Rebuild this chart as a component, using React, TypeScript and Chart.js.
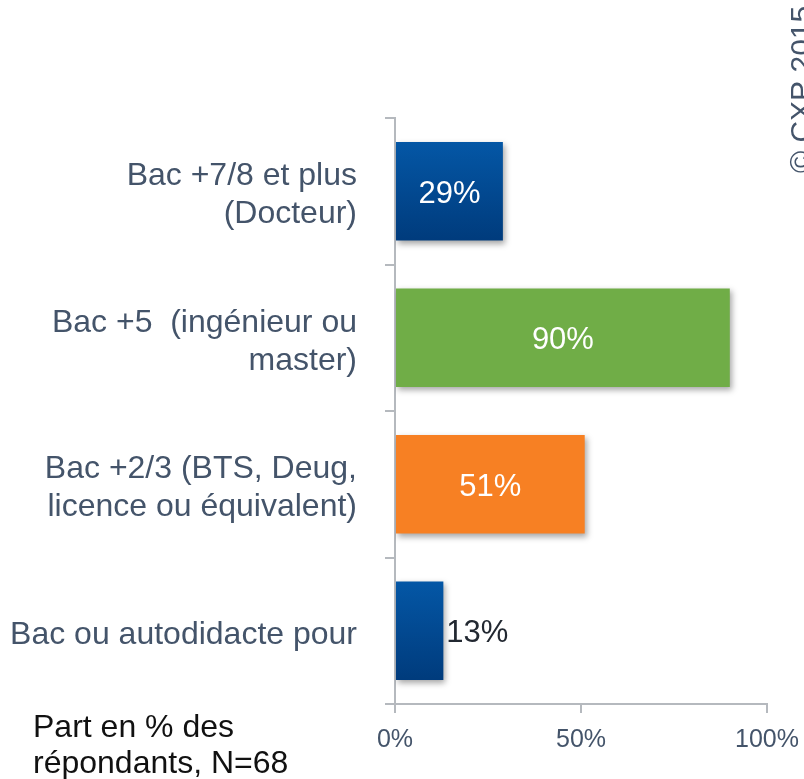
import React, { useEffect, useRef } from "react";
import { Chart, registerables } from "chart.js";

Chart.register(...registerables);

const categories: (string | string[])[] = [
  ["Bac +7/8 et plus", "(Docteur)"],
  ["Bac +5  (ingénieur ou", "master)"],
  ["Bac +2/3 (BTS, Deug,", "licence ou équivalent)"],
  "Bac ou autodidacte pour",
];
const values = [29, 90, 51, 13];
const barKinds = ["blue", "green", "orange", "blue"];
const xTicks = [0, 50, 100];
const footnote = ["Part en % des", "répondants, N=68"];
const copyright = "© CXP 2015";

const FONT = "'Liberation Sans', Arial, sans-serif";
const TEXT2 = "#44546a";

export default function App() {
  const ref = useRef<HTMLCanvasElement | null>(null);

  useEffect(() => {
    const canvas = ref.current;
    if (!canvas) return;

    const colorFor = (c: any) => {
      const kind = barKinds[c.dataIndex];
      if (kind === "green") return "#70ad47";
      if (kind === "orange") return "#f78023";
      const chart = c.chart;
      const y = chart.scales && chart.scales.y;
      if (!y || !chart.chartArea) return "#004a93";
      const cy = y.getPixelForValue(c.dataIndex);
      const g = chart.ctx.createLinearGradient(0, cy - 50, 0, cy + 50);
      g.addColorStop(0, "#0457a6");
      g.addColorStop(1, "#003b7c");
      return g;
    };

    const shadowPlugin = {
      id: "shadow",
      beforeDatasetDraw(chart: any) {
        const ctx = chart.ctx;
        ctx.save();
        ctx.shadowColor = "rgba(0,0,0,0.35)";
        ctx.shadowBlur = 6;
        ctx.shadowOffsetX = 2;
        ctx.shadowOffsetY = 3;
      },
      afterDatasetDraw(chart: any) {
        chart.ctx.restore();
      },
    };

    const labelsPlugin = {
      id: "labels",
      afterDatasetsDraw(chart: any) {
        const ctx = chart.ctx;
        const meta = chart.getDatasetMeta(0);
        ctx.save();
        ctx.font = `31px ${FONT}`;
        ctx.textBaseline = "middle";
        meta.data.forEach((el: any, i: number) => {
          const v = values[i];
          const txt = `${v}%`;
          if (v >= 20) {
            ctx.fillStyle = "#ffffff";
            ctx.textAlign = "center";
            ctx.fillText(txt, (el.x + el.base) / 2, el.y + 3);
          } else {
            ctx.fillStyle = "#222831";
            ctx.textAlign = "left";
            ctx.fillText(txt, el.x + 3, el.y + 3);
          }
        });
        // footnote
        ctx.fillStyle = "#111111";
        ctx.textAlign = "left";
        ctx.textBaseline = "alphabetic";
        ctx.font = `32px ${FONT}`;
        footnote.forEach((line, i) => {
          ctx.fillText(line, 33, 737 + i * 36);
        });
        // copyright
        ctx.save();
        ctx.translate(811, 173);
        ctx.rotate(-Math.PI / 2);
        ctx.font = `30px ${FONT}`;
        ctx.fillStyle = TEXT2;
        ctx.textAlign = "left";
        ctx.textBaseline = "alphabetic";
        ctx.fillText(copyright, 0, 0);
        ctx.restore();
        ctx.restore();
      },
    };

    const chart = new Chart(canvas, {
      type: "bar",
      data: {
        labels: categories,
        datasets: [
          {
            data: values,
            backgroundColor: colorFor as any,
            borderWidth: 0,
            barPercentage: 0.673,
            categoryPercentage: 1,
          },
        ],
      },
      options: {
        indexAxis: "y",
        responsive: false,
        animation: false,
        devicePixelRatio: 1,
        layout: { padding: { top: 118, right: 37, left: 0, bottom: 0 } },
        plugins: {
          legend: { display: false },
          tooltip: { enabled: false },
        },
        scales: {
          x: {
            min: 0,
            max: 100,
            afterBuildTicks: (scale: any) => {
              scale.ticks = xTicks.map((v) => ({ value: v }));
            },
            afterFit: (scale: any) => {
              scale.height = 75;
              scale.paddingLeft = 0;
              scale.paddingRight = 0;
            },
            grid: {
              drawOnChartArea: false,
              drawTicks: true,
              tickLength: 9,
              color: "#b5b9be",
              lineWidth: 2,
            },
            border: { color: "#b5b9be", width: 2 },
            ticks: {
              padding: 12,
              color: TEXT2,
              font: { family: FONT, size: 25 },
              callback: (v: any) => `${v}%`,
              maxRotation: 0,
            },
          },
          y: {
            afterFit: (scale: any) => {
              scale.width = 395;
              scale.paddingTop = 0;
              scale.paddingBottom = 0;
            },
            grid: {
              offset: true,
              drawOnChartArea: false,
              drawTicks: true,
              tickLength: 10,
              color: "#b5b9be",
              lineWidth: 2,
            },
            border: { color: "#b5b9be", width: 2 },
            ticks: {
              padding: 28,
              labelOffset: 4,
              color: TEXT2,
              font: { family: FONT, size: 32, lineHeight: 1.19 },
            },
          },
        },
      },
      plugins: [shadowPlugin, labelsPlugin],
    });

    return () => chart.destroy();
  }, []);

  return (
    <div style={{ position: "fixed", left: 0, top: 0, width: 804, height: 779, background: "#fff" }}>
      <canvas ref={ref} width={804} height={779} style={{ display: "block" }} />
    </div>
  );
}
